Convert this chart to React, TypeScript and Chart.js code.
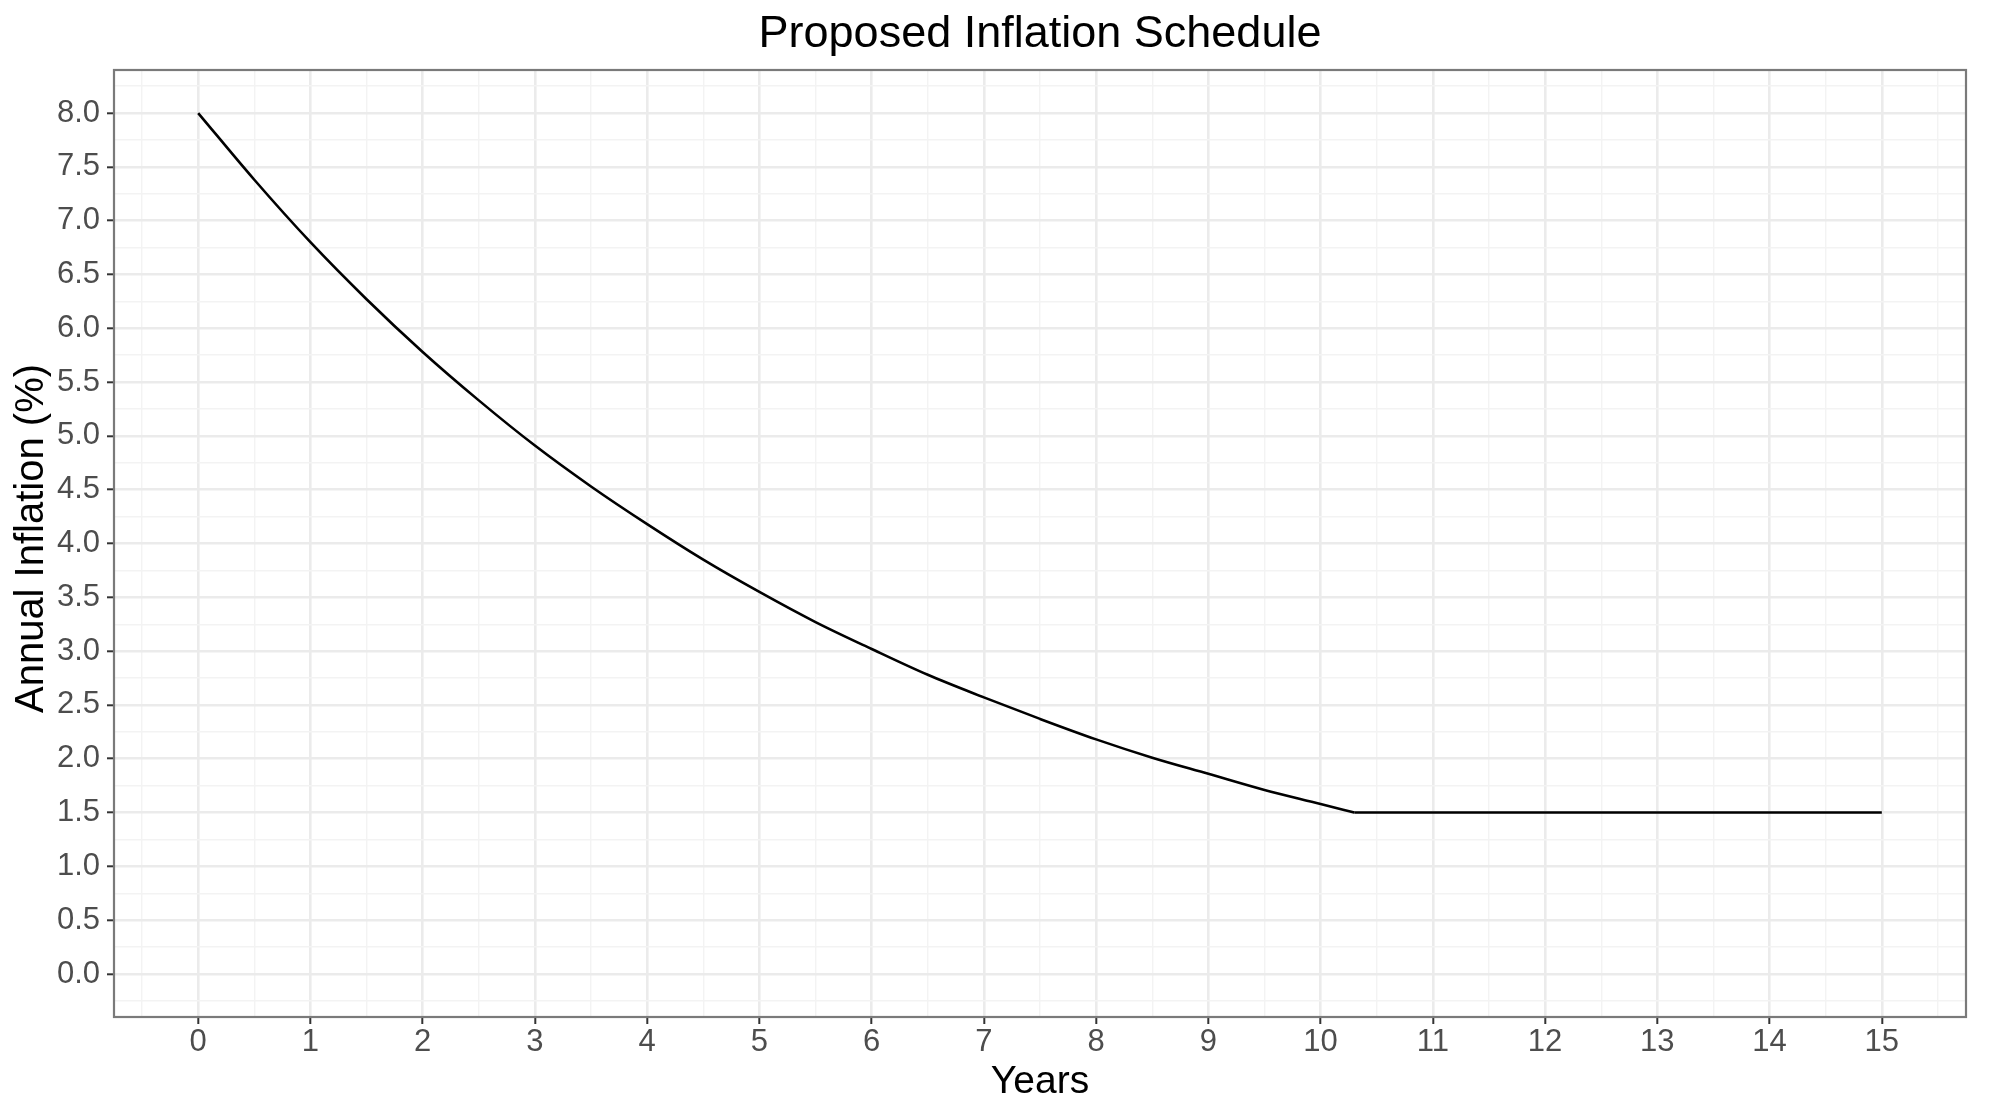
import React, { useRef, useEffect } from "react";
import { Chart, registerables, Plugin } from "chart.js";

Chart.register(...registerables);

// decaying part of the schedule
const decayYears = [0, 0.5, 1, 1.5, 2, 2.5, 3, 3.5, 4, 4.5, 5, 5.5, 6, 6.5, 7, 7.5, 8, 8.5, 9, 9.5, 10, 10.3];
const decayInflation = [
  8.0, 7.38, 6.8, 6.27, 5.78, 5.33, 4.91, 4.53, 4.18, 3.85, 3.55, 3.27, 3.02, 2.78, 2.57, 2.37, 2.18, 2.01,
  1.86, 1.71, 1.58, 1.5,
];
// long-term floor
const floorYears = [10.3, 15];
const floorInflation = [1.5, 1.5];

// major ticks get labels, minor ticks only get a thin grid line
const xMajorTicks = [0, 1, 2, 3, 4, 5, 6, 7, 8, 9, 10, 11, 12, 13, 14, 15];
const xMinorTicks = [-0.5, 0.5, 1.5, 2.5, 3.5, 4.5, 5.5, 6.5, 7.5, 8.5, 9.5, 10.5, 11.5, 12.5, 13.5, 14.5, 15.5];
const yMajorTicks = [0, 0.5, 1, 1.5, 2, 2.5, 3, 3.5, 4, 4.5, 5, 5.5, 6, 6.5, 7, 7.5, 8];
const yMinorTicks = [-0.25, 0.25, 0.75, 1.25, 1.75, 2.25, 2.75, 3.25, 3.75, 4.25, 4.75, 5.25, 5.75, 6.25, 6.75, 7.25, 7.75, 8.25];

const chartTitle = "Proposed Inflation Schedule";
const xTitle = "Years";
const yTitle = "Annual Inflation (%)";

const FONT = "'Liberation Sans', Arial, sans-serif";

const isMajor = (list: number[], v: number) => list.some((m) => Math.abs(m - v) < 1e-6);

// ggplot-like frame and titles
const framePlugin: Plugin<"line"> = {
  id: "frame",
  afterDraw(chart) {
    const { ctx, chartArea } = chart;
    const cx = (chartArea.left + chartArea.right) / 2;
    const cy = (chartArea.top + chartArea.bottom) / 2;
    ctx.save();
    ctx.strokeStyle = "#7a7a7a";
    ctx.lineWidth = 2.2;
    ctx.strokeRect(chartArea.left, chartArea.top, chartArea.right - chartArea.left, chartArea.bottom - chartArea.top);

    ctx.fillStyle = "#000000";
    ctx.textAlign = "center";
    ctx.textBaseline = "alphabetic";
    ctx.font = `45px ${FONT}`;
    ctx.fillText(chartTitle, cx, chartArea.top - 23);

    ctx.font = `39px ${FONT}`;
    ctx.fillText(xTitle, cx, chartArea.bottom + 76);

    ctx.font = `40px ${FONT}`;
    ctx.translate(43, cy - 5);
    ctx.rotate(-Math.PI / 2);
    ctx.fillText(yTitle, 0, 0);
    ctx.restore();
  },
};

const lineStyle = {
  borderColor: "#000000",
  borderWidth: 2.6,
  pointRadius: 0,
  fill: false,
};

const App: React.FC = () => {
  const canvasRef = useRef<HTMLCanvasElement | null>(null);
  const chartRef = useRef<Chart | null>(null);

  useEffect(() => {
    document.body.style.margin = "0";
    if (!canvasRef.current) return;
    if (chartRef.current) chartRef.current.destroy();

    chartRef.current = new Chart(canvasRef.current, {
      type: "line",
      data: {
        datasets: [
          {
            label: "Decay",
            data: decayYears.map((x, i) => ({ x, y: decayInflation[i] })),
            cubicInterpolationMode: "monotone",
            ...lineStyle,
          },
          {
            label: "Floor",
            data: floorYears.map((x, i) => ({ x, y: floorInflation[i] })),
            tension: 0,
            ...lineStyle,
          },
        ],
      },
      options: {
        animation: false,
        responsive: false,
        devicePixelRatio: 1,
        layout: { padding: { top: 70, right: 34, bottom: 0, left: 0 } },
        plugins: {
          legend: { display: false },
          title: { display: false },
          tooltip: { enabled: false },
        },
        scales: {
          x: {
            type: "linear",
            min: -0.75,
            max: 15.75,
            border: { display: false },
            afterBuildTicks: (axis) => {
              axis.ticks = [...xMinorTicks, ...xMajorTicks].sort((a, b) => a - b).map((value) => ({ value }));
            },
            afterFit: (axis) => {
              axis.height = 83;
            },
            grid: {
              color: (c) => (isMajor(xMajorTicks, c.tick.value) ? "#ebebeb" : "#f3f3f3"),
              lineWidth: (c) => (isMajor(xMajorTicks, c.tick.value) ? 2.6 : 1.4),
              tickColor: (c) => (isMajor(xMajorTicks, c.tick.value) ? "#333333" : "rgba(0,0,0,0)"),
              tickWidth: 2,
              tickLength: 7,
            },
            ticks: {
              autoSkip: false,
              maxRotation: 0,
              padding: 0,
              color: "#4d4d4d",
              font: { family: FONT, size: 31 },
              callback: (v) => (isMajor(xMajorTicks, Number(v)) ? String(v) : ""),
            },
          },
          y: {
            type: "linear",
            min: -0.4,
            max: 8.4,
            border: { display: false },
            afterBuildTicks: (axis) => {
              axis.ticks = [...yMinorTicks, ...yMajorTicks].sort((a, b) => a - b).map((value) => ({ value }));
            },
            afterFit: (axis) => {
              axis.width = 114;
            },
            grid: {
              color: (c) => (isMajor(yMajorTicks, c.tick.value) ? "#ebebeb" : "#f3f3f3"),
              lineWidth: (c) => (isMajor(yMajorTicks, c.tick.value) ? 2.6 : 1.4),
              tickColor: (c) => (isMajor(yMajorTicks, c.tick.value) ? "#333333" : "rgba(0,0,0,0)"),
              tickWidth: 2,
              tickLength: 7,
            },
            ticks: {
              autoSkip: false,
              padding: 7,
              color: "#4d4d4d",
              font: { family: FONT, size: 31 },
              callback: (v) => (isMajor(yMajorTicks, Number(v)) ? Number(v).toFixed(1) : ""),
            },
          },
        },
      },
      plugins: [framePlugin],
    });

    return () => {
      if (chartRef.current) {
        chartRef.current.destroy();
        chartRef.current = null;
      }
    };
  }, []);

  return (
    <div style={{ width: 2000, height: 1100, background: "#ffffff" }}>
      <canvas ref={canvasRef} width={2000} height={1100}></canvas>
    </div>
  );
};

export default App;
